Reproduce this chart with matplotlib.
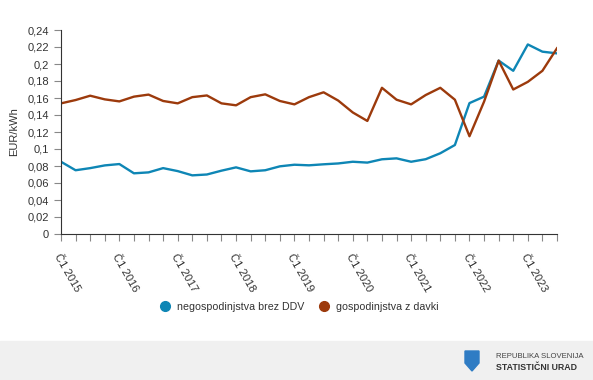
import matplotlib.pyplot as plt
from matplotlib.patches import Rectangle, Polygon
from matplotlib.ticker import FuncFormatter

plt.rcParams['font.family'] = ['Liberation Sans', 'DejaVu Sans']

# četrtletja od Č1 2015 do Č3 2023
leta = list(range(2015, 2024))
cetrtletja = [f"Č{q} {l}" for l in leta for q in range(1, 5)][:35]

negospodinjstva = [0.085, 0.075, 0.0775, 0.0807, 0.0823, 0.0714, 0.0725, 0.0775,
                   0.074, 0.069, 0.070, 0.0745, 0.0784, 0.0737, 0.075, 0.0796,
                   0.0815, 0.0808, 0.082, 0.083, 0.085, 0.084, 0.0879, 0.089,
                   0.085, 0.088, 0.095, 0.1047, 0.154, 0.1616, 0.204, 0.192,
                   0.223, 0.2145, 0.2125]
gospodinjstva = [0.1537, 0.1576, 0.1627, 0.1584, 0.156, 0.1616, 0.164, 0.1565,
                 0.1537, 0.161, 0.163, 0.1537, 0.1514, 0.161, 0.1643, 0.1565,
                 0.1525, 0.161, 0.1667, 0.157, 0.143, 0.133, 0.172, 0.158,
                 0.1525, 0.1635, 0.172, 0.158, 0.115, 0.1557, 0.204, 0.170,
                 0.179, 0.192, 0.2185]
legenda = ['negospodinjstva brez DDV', 'gospodinjstva z davki']

modra = '#0e86b5'
rjava = '#9c3a0c'

fig = plt.figure(figsize=(5.93, 3.80), dpi=100)
ax = fig.add_axes([61 / 593, 1 - 234 / 380, 496 / 593, 204 / 380])

x = list(range(len(cetrtletja)))
ax.plot(x, negospodinjstva, color=modra, lw=1.7, label=legenda[0])
ax.plot(x, gospodinjstva, color=rjava, lw=1.7, label=legenda[1])

ax.set_xlim(0, len(x) - 1)
ax.set_ylim(0, 0.24)
ax.set_yticks([i * 0.02 for i in range(13)])
ax.yaxis.set_major_formatter(FuncFormatter(lambda v, p: f"{v:.2f}".rstrip('0').rstrip('.').replace('.', ',') if v else '0'))
ax.set_ylabel('EUR/kWh', fontsize=8, color='#333333', labelpad=6)

ax.set_xticks(x)
ax.set_xticklabels([c if c.startswith('Č1') else '' for c in cetrtletja])
for t in ax.get_xticklabels():
    t.set_rotation(-60)
    t.set_rotation_mode('anchor')
    t.set_ha('left')
    t.set_va('top')

ax.tick_params(axis='both', labelsize=8, colors='#333333', length=5, width=0.8)
ax.tick_params(axis='x', pad=8, color='#888888')
ax.tick_params(axis='y', color='#888888')
for s in ['top', 'right']:
    ax.spines[s].set_visible(False)
ax.spines['left'].set_color('#333333')
ax.spines['bottom'].set_color('#333333')

leg = fig.legend(handles=[
    plt.Line2D([], [], ls='', marker='o', ms=7, color=modra),
    plt.Line2D([], [], ls='', marker='o', ms=7, color=rjava)],
    labels=legenda, loc='center', bbox_to_anchor=(0.5, 1 - 307 / 380),
    ncol=2, frameon=False, fontsize=7.7, handletextpad=0.1, columnspacing=0.8)
for t in leg.get_texts():
    t.set_color('#333333')

# noga s logotipom
fig.patches.append(Rectangle((0, 0), 1, 39 / 380, transform=fig.transFigure,
                             color='#f0f0f0', zorder=0))
sx, sy = 465 / 593, 1 - 351 / 380
w, h = 14 / 593, 20 / 380
fig.patches.append(Polygon([(sx, sy), (sx + w, sy), (sx + w, sy - h * 0.6),
                            (sx + w / 2, sy - h), (sx, sy - h * 0.6)],
                           closed=True, transform=fig.transFigure, color='#2f7cc4'))
fig.text(496 / 593, 1 - 356 / 380, 'REPUBLIKA SLOVENIJA', fontsize=5.6,
         color='#444444', va='center')
fig.text(496 / 593, 1 - 368 / 380, 'STATISTIČNI URAD', fontsize=6.3,
         color='#333333', va='center', weight='bold')

fig.savefig('out.png', dpi=100)
